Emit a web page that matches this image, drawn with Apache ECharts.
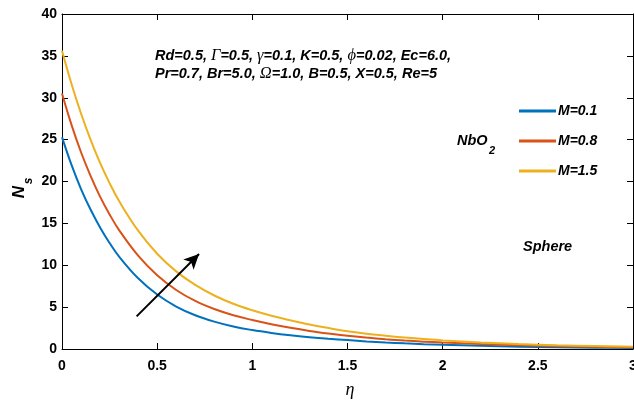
<!DOCTYPE html>
<html>
<head>
<meta charset="utf-8">
<script src="https://cdn.jsdelivr.net/npm/echarts@6/dist/echarts.min.js"></script>
<style>html,body{margin:0;padding:0;background:#fff}#c{width:634px;height:400px}</style>
</head>
<body>
<div id="c"></div>
<script>
var eta = [0,0.05,0.1,0.15,0.2,0.25,0.3,0.4,0.5,0.6,0.7,0.8,0.9,1.0,1.1,1.2,1.3,1.4,1.5,1.6,1.7,1.8,1.9,2.0,2.2,2.4,2.6,2.8,3.0];
var ns_M01 = [25.3,21.98,19.1,16.65,14.52,12.66,11.03,8.44,6.5,5.07,4.03,3.27,2.69,2.26,1.92,1.64,1.41,1.22,1.06,0.91,0.785,0.675,0.58,0.5,0.375,0.28,0.21,0.16,0.12];
var ns_M08 = [30.5,26.76,23.49,20.68,18.2,16.07,14.2,11.15,8.81,7.05,5.74,4.77,4.03,3.46,2.96,2.53,2.16,1.85,1.58,1.36,1.17,1.01,0.88,0.77,0.585,0.445,0.343,0.267,0.21];
var ns_M15 = [35.6,31.64,28.12,24.99,22.22,19.81,17.66,14.13,11.38,9.27,7.65,6.39,5.4,4.62,3.97,3.42,2.92,2.5,2.12,1.83,1.59,1.37,1.19,1.03,0.78,0.595,0.45,0.345,0.26];
var seriesNames = ['M=0.1','M=0.8','M=1.5'];
var colors = ['#0072BD','#D95319','#EDB120'];
var arrowStart = [0.392, 3.9];
var arrowEnd = [0.72, 11.34];

function pairs(ys){ return eta.map(function(x,i){ return [x, ys[i]]; }); }

var chart = echarts.init(document.getElementById('c'), null, {renderer:'canvas'});
var FF = '"Liberation Sans", Arial, sans-serif';
var axisCommon = {
  type:'value', splitLine:{show:false},
  axisLine:{show:true, onZero:false, lineStyle:{color:'#000', width:1}},
  axisTick:{show:true, inside:true, length:6, lineStyle:{color:'#000'}}
};
var option = {
  animation:false,
  color: colors,
  grid:{left:62, top:14, right:1, bottom:51, containLabel:false, outerBoundsMode:'none'},
  xAxis:[
    Object.assign({}, axisCommon, {min:0, max:3, interval:0.5, position:'bottom',
      axisLabel:{color:'#000', fontWeight:'bold', fontSize:14, fontFamily:FF, margin:10}}),
    Object.assign({}, axisCommon, {min:0, max:3, interval:0.5, position:'top', axisLabel:{show:false}})
  ],
  yAxis:[
    Object.assign({}, axisCommon, {min:0, max:40, interval:5, position:'left',
      axisLabel:{color:'#000', fontWeight:'bold', fontSize:14, fontFamily:FF, margin:5}}),
    Object.assign({}, axisCommon, {min:0, max:40, interval:5, position:'right', axisLabel:{show:false}})
  ],
  legend:{
    orient:'vertical', left:519, top:103, padding:0, itemWidth:37, itemHeight:3, icon:'rect',
    itemGap:14,
    textStyle:{color:'#000', fontWeight:'bold', fontStyle:'italic', fontSize:14, fontFamily:FF, lineHeight:16, padding:[0,0,0,-3]},
    data: seriesNames
  },
  series:[
    {name:seriesNames[0], type:'line', data:pairs(ns_M01), smooth:0.4, showSymbol:false, lineStyle:{width:2, color:colors[0]},
      markLine:{silent:true, symbol:['none','arrow'], symbolSize:[11,15], label:{show:false},
        lineStyle:{color:'#000', width:2, type:'solid'},
        data:[[{coord:arrowStart},{coord:arrowEnd}]]}},
    {name:seriesNames[1], type:'line', data:pairs(ns_M08), smooth:0.4, showSymbol:false, lineStyle:{width:2, color:colors[1]}},
    {name:seriesNames[2], type:'line', data:pairs(ns_M15), smooth:0.4, showSymbol:false, lineStyle:{width:2, color:colors[2]}}
  ],
  graphic:[
    {type:'text', left:155, top:47, style:{
      text:'{i|Rd=0.5, }{g|Γ}{i|=0.5, }{g|γ}{i|=0.1, K=0.5, }{g|ϕ}{i|=0.02, Ec=6.0,}',
      rich:{i:{fontFamily:FF, fontWeight:'bold', fontStyle:'italic', fontSize:14.5, fill:'#000'},
            g:{fontFamily:'"Liberation Serif", serif', fontStyle:'italic', fontSize:16.5, fill:'#000'}}}},
    {type:'text', left:155, top:65, style:{
      text:'{i|Pr=0.7, Br=5.0, }{g|Ω}{i|=1.0, B=0.5, X=0.5, Re=5}',
      rich:{i:{fontFamily:FF, fontWeight:'bold', fontStyle:'italic', fontSize:14.5, fill:'#000'},
            g:{fontFamily:'"Liberation Serif", serif', fontStyle:'italic', fontSize:16.5, fill:'#000'}}}},
    {type:'text', left:457, top:133, style:{text:'NbO', font:'italic bold 14.5px "Liberation Sans", Arial', fill:'#000'}},
    {type:'text', left:489, top:145, style:{text:'2', font:'italic bold 11px "Liberation Sans", Arial', fill:'#000'}},
    {type:'text', left:523, top:239, style:{text:'Sphere', font:'italic bold 14.5px "Liberation Sans", Arial', fill:'#000'}},
    {type:'text', x:350, y:390, style:{text:'η', font:'italic 18px "Liberation Serif", serif', fill:'#000', textAlign:'center', textVerticalAlign:'middle'}},
    {type:'text', x:19, y:192, rotation:Math.PI/2, style:{text:'N', font:'italic bold 17px "Liberation Sans", Arial', fill:'#000', textAlign:'center', textVerticalAlign:'middle'}},
    {type:'text', x:29, y:181, rotation:Math.PI/2, style:{text:'s', font:'italic bold 12px "Liberation Sans", Arial', fill:'#000', textAlign:'center', textVerticalAlign:'middle'}}
  ]
};
chart.setOption(option);
</script>
</body>
</html>
